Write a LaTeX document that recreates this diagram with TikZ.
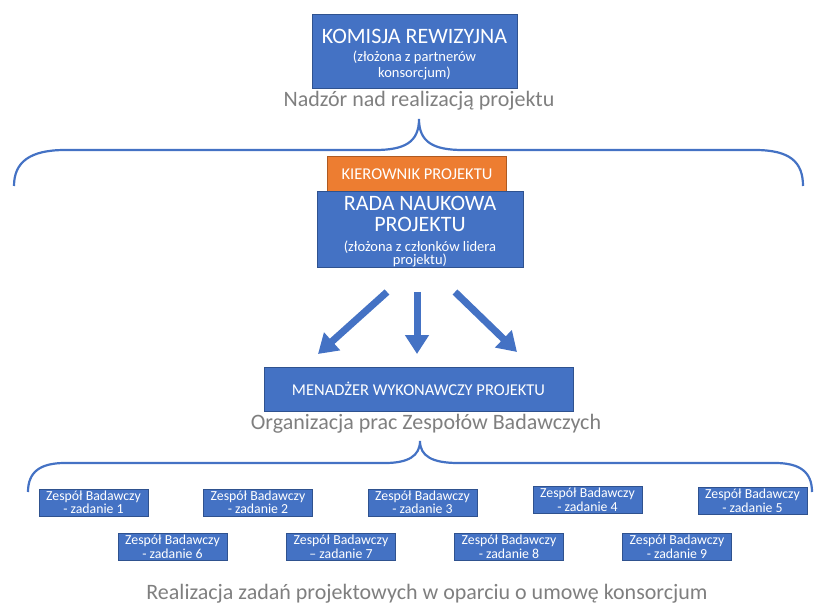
\documentclass[tikz,border=0pt]{standalone}
\usepackage{fontspec}
\setmainfont{Carlito}
\usetikzlibrary{arrows.meta}
\definecolor{boxblue}{HTML}{4472C4}
\definecolor{boxedge}{HTML}{2F528F}
\definecolor{boxorange}{HTML}{ED7D31}
\definecolor{orangeedge}{HTML}{AE5A21}
\definecolor{captiongray}{HTML}{7F7F7F}
\tikzset{
  bluebox/.style={draw=boxedge, fill=boxblue, line width=1pt, text=white, inner sep=0pt, align=center},
  orangebox/.style={draw=orangeedge, fill=boxorange, line width=1pt, text=white, inner sep=0pt, align=center},
  teambox/.style={bluebox, minimum width=109pt, minimum height=27pt, font=\fontsize{13.8}{13.5}\selectfont},
  caption/.style={text=captiongray, inner sep=0pt, font=\fontsize{22}{24}\selectfont},
  boxtext/.style={text=white, inner sep=0pt, anchor=base},
  bracepath/.style={draw=boxblue, line width=2.2pt},
  blockarrow/.style={draw=boxblue, line width=7pt, -{Triangle[width=23pt,length=19pt]}}
}
\begin{document}
\begin{tikzpicture}[x=1pt,y=-1pt]
\useasboundingbox (0,0) rectangle (817,604);
% top box
\node[bluebox, minimum width=205pt, minimum height=74pt] (komisja) at (414.5,52) {};
\node[boxtext, font=\fontsize{22}{24}\selectfont] (komisjaA) at (414.5,44) {KOMISJA REWIZYJNA};
\node[boxtext, font=\fontsize{14.5}{16}\selectfont] (komisjaB) at (414.5,62) {(złożona z partnerów};
\node[boxtext, font=\fontsize{14.5}{16}\selectfont] (komisjaC) at (414.5,78) {konsorcjum)};
\node[caption] (nadzor) at (419,101) {Nadzór nad realizacją projektu};
% brace 1
\draw[bracepath] (14,186) .. controls (14,162) and (30,150) .. (65,150) -- (375,150)
  .. controls (405,150) and (419,142) .. (419,119)
  .. controls (419,142) and (433,150) .. (463,150) -- (755,150)
  .. controls (790,150) and (803,162) .. (803,186);
% leader
\node[orangebox, minimum width=179pt, minimum height=35pt, font=\fontsize{16.5}{18}\selectfont] (kier) at (417,174) {KIEROWNIK PROJEKTU};
\node[bluebox, minimum width=206pt, minimum height=76pt] (rada) at (420,229.5) {};
\node[boxtext, font=\fontsize{22}{24}\selectfont] (radaA) at (420,210.5) {RADA NAUKOWA};
\node[boxtext, font=\fontsize{22}{24}\selectfont] (radaB) at (420,232) {PROJEKTU};
\node[boxtext, font=\fontsize{14.5}{16}\selectfont] (radaC) at (420,252) {(złożona z członków lidera};
\node[boxtext, font=\fontsize{14.5}{16}\selectfont] (radaD) at (420,265) {projektu)};
% arrows
\coordinate (a1s) at (387,292); \coordinate (a1e) at (318,354);
\coordinate (a2s) at (417,292); \coordinate (a2e) at (417,354);
\coordinate (a3s) at (455,292); \coordinate (a3e) at (517,352);
\draw[blockarrow] (a1s) -- (a1e);
\draw[blockarrow] (a2s) -- (a2e);
\draw[blockarrow] (a3s) -- (a3e);
% manager
\node[bluebox, minimum width=309pt, minimum height=44pt, font=\fontsize{16.5}{18}\selectfont] (men) at (418.5,389) {MENADŻER WYKONAWCZY PROJEKTU};
\node[caption] (org) at (426,424) {Organizacja prac Zespołów Badawczych};
% brace 2
\draw[bracepath] (28,492) .. controls (28,472) and (40,463) .. (65,463) -- (385,463)
  .. controls (408,463) and (420,456) .. (420,441)
  .. controls (420,456) and (432,463) .. (458,463) -- (775,463)
  .. controls (800,463) and (812,472) .. (812,492);
% teams
\node[teambox] (z1) at (93.5,502.5) {Zespół Badawczy\\- zadanie 1};
\node[teambox] (z2) at (258,502.5) {Zespół Badawczy\\- zadanie 2};
\node[teambox] (z3) at (422.5,502.5) {Zespół Badawczy\\- zadanie 3};
\node[teambox] (z4) at (587.5,500) {Zespół Badawczy\\- zadanie 4};
\node[teambox] (z5) at (752.5,501) {Zespół Badawczy\\- zadanie 5};
\node[teambox] (z6) at (172.5,547) {Zespół Badawczy\\- zadanie 6};
\node[teambox] (z7) at (341,547) {Zespół Badawczy\\– zadanie 7};
\node[teambox] (z8) at (509,547) {Zespół Badawczy\\- zadanie 8};
\node[teambox] (z9) at (677,547) {Zespół Badawczy\\- zadanie 9};
\node[caption] (real) at (427,594) {Realizacja zadań projektowych w oparciu o umowę konsorcjum};
\end{tikzpicture}
\end{document}
